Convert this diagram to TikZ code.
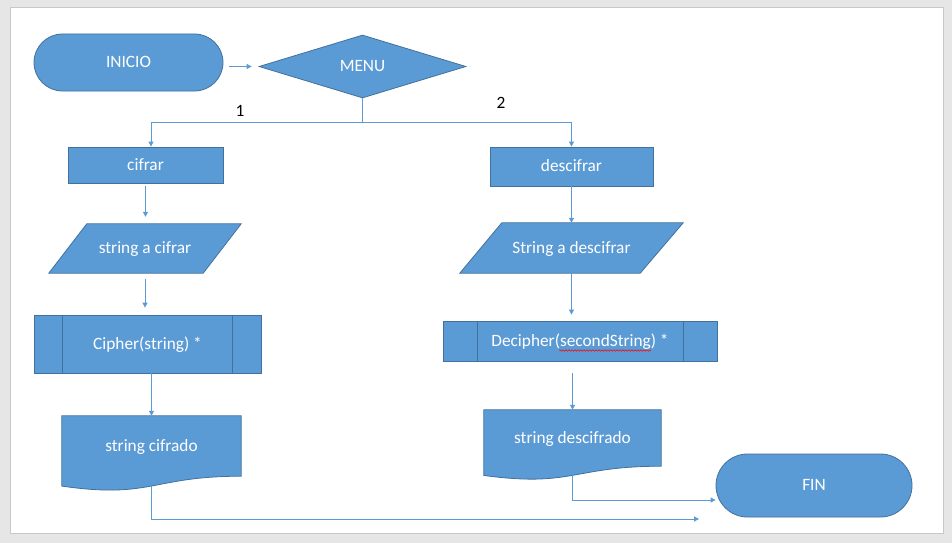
\documentclass[tikz,border=0pt]{standalone}
\usepackage{fontspec}
\setmainfont{Carlito}
\usetikzlibrary{shapes.geometric,shapes.misc,arrows.meta,calc,decorations.pathmorphing}
\pgfdeclarelayer{back}
\pgfdeclarelayer{bg}
\pgfsetlayers{back,bg,main}
\definecolor{fillblue}{HTML}{5B9BD5}
\definecolor{edgeblue}{HTML}{41719C}
\definecolor{pagegray}{HTML}{E6E6E6}
\definecolor{pageedge}{HTML}{C8C8C8}
\tikzset{
  shp/.style={fill=fillblue, draw=edgeblue, line width=0.8pt},
  txt/.style={text=white, font=\fontsize{17.3}{20}\selectfont, inner sep=0pt, text height=13pt, text depth=3pt},
  lbl/.style={text=black, font=\fontsize{17.3}{20}\selectfont, inner sep=0pt},
  conn/.style={draw=fillblue, line width=1pt},
  arr/.style={conn, -{Triangle[length=5pt,width=5pt]}},
  divider/.style={draw=edgeblue, line width=0.8pt}
}
\newcommand{\mydocpath}[2]{%
  \draw[shp] (#1.north west) -- (#1.north east) -- (#1.south east)
    .. controls (#1.south) and ($(#1.south)+(0,0.381*#2)$) ..
    ($(#1.south west)+(0,0.1646*#2)$) -- cycle;}
\begin{document}
\begin{tikzpicture}[x=1pt,y=-1pt]
\begin{pgfonlayer}{back}
\fill[pagegray] (0,0) rectangle (952,543);
\draw[pageedge, fill=white, line width=0.8pt] (10,7) rectangle (943,533);
\end{pgfonlayer}
\useasboundingbox (0,0) rectangle (952,543);

% nodes
\node[shp, txt, rounded rectangle, minimum width=189, minimum height=57] (inicio) at (128.5,62.5) {INICIO};
\node[shp, txt, diamond, aspect=3, minimum width=207, minimum height=63] (menu) at (362.5,66.5) {MENU};

\node[shp, txt, rectangle, minimum width=155, minimum height=36] (cifrar) at (145.5,165) {cifrar};
\node[txt, minimum width=192, minimum height=49] (pin) at (145,248.5) {string a cifrar};
\node[shp, txt, rectangle, minimum width=227, minimum height=58] (cipher) at (147.5,344) {Cipher(string) *};
\node[txt, minimum width=179, minimum height=60] (cifrado) at (151.5,446) {string cifrado};

\node[shp, txt, rectangle, minimum width=163, minimum height=39] (descifrar) at (571.5,166.5) {descifrar};
\node[txt, minimum width=223, minimum height=50] (pin2) at (571.5,248) {String a descifrar};
\node[shp, txt, rectangle, minimum width=274, minimum height=40] (decipher) at (580,341) {Decipher(secondString) *};
\node[txt, minimum width=177, minimum height=56] (descifrado) at (572.5,438) {string descifrado};
\node[shp, txt, rounded rectangle, minimum width=196, minimum height=63] (fin) at (814,485.5) {FIN};

\node[lbl] (n1) at (240,111) {1};
\node[lbl] (n2) at (501,103) {2};

% custom shapes behind text
\begin{pgfonlayer}{bg}
\draw[shp] ($(pin.north west)+(38,0)$) -- (pin.north east) -- ($(pin.south east)+(-38,0)$) -- (pin.south west) -- cycle;
\draw[shp] ($(pin2.north west)+(42,0)$) -- (pin2.north east) -- ($(pin2.south east)+(-43,0)$) -- (pin2.south west) -- cycle;
\mydocpath{cifrado}{60}
\mydocpath{descifrado}{56}
\end{pgfonlayer}

% predefined-process side bars
\draw[divider] ($(cipher.north west)+(29,0)$) -- ($(cipher.south west)+(29,0)$);
\draw[divider] ($(cipher.north east)+(-29,0)$) -- ($(cipher.south east)+(-29,0)$);
\draw[divider] ($(decipher.north west)+(35,0)$) -- ($(decipher.south west)+(35,0)$);
\draw[divider] ($(decipher.north east)+(-34,0)$) -- ($(decipher.south east)+(-34,0)$);

% spell-check underline
\draw[red, line width=0.5pt, decorate, decoration={snake, amplitude=0.8pt, segment length=3pt}] (559,350.5) -- (651,350.5);

% connectors
\coordinate (split) at (362.5,122);
\draw[arr, shorten <=6pt, shorten >=7pt] (inicio.east |- menu.west) -- (menu.west);
\draw[conn] (menu.south) -- (split);
\draw[arr] (split) -| ($(cifrar.north)+(5.5,0)$);
\draw[arr] (split) -| (descifrar.north);

\draw[arr, shorten <=3pt, shorten >=7pt] (cifrar.south) -- (cifrar.south |- pin.north);
\draw[arr, shorten <=6pt, shorten >=7pt] (pin.south) -- (pin.south |- cipher.north);
\draw[arr] (cifrado.north |- cipher.south) -- (cifrado.north);
\coordinate (end1) at (699,519);
\draw[arr] ($(cifrado.south)+(0,9.8)$) |- (end1);

\draw[arr] (descifrar.south) -- (descifrar.south |- pin2.north);
\draw[arr, shorten >=6pt] (pin2.south) -- (pin2.south |- decipher.north);
\draw[arr, shorten <=12pt] (descifrado.north |- decipher.south) -- (descifrado.north);
\draw[arr] ($(descifrado.south)+(0,9.2)$) |- ($(fin.west)+(0,14.5)$);
\end{tikzpicture}
\end{document}
